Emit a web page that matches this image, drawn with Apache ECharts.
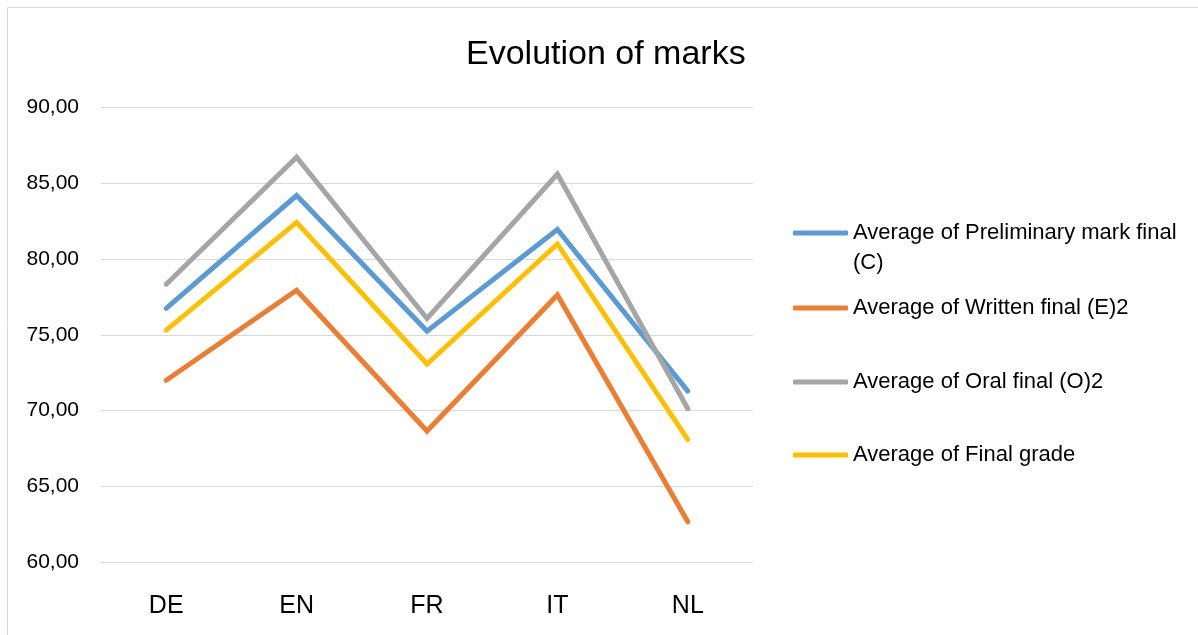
<!DOCTYPE html>
<html>
<head>
<meta charset="utf-8">
<title>Evolution of marks</title>
<script src="https://cdn.jsdelivr.net/npm/echarts@6/dist/echarts.min.js"></script>
<style>
  html, body { margin: 0; padding: 0; background: #fff; }
  #chart { width: 1198px; height: 635px; }
</style>
</head>
<body>
<div id="chart"></div>
<script>
// categories (language sections)
const categories = ["DE", "EN", "FR", "IT", "NL"];

// series values
const preliminaryMark = [76.74, 84.17, 75.24, 81.93, 71.29];
const writtenFinal = [72.0, 77.93, 68.66, 77.62, 62.68];
const oralFinal = [78.33, 86.7, 76.07, 85.59, 70.13];
const finalGrade = [75.3, 82.4, 73.07, 80.98, 68.1];

const seriesNames = [
  "Average of Preliminary mark final (C)",
  "Average of Written final (E)2",
  "Average of Oral final (O)2",
  "Average of Final grade",
];
const seriesData = [preliminaryMark, writtenFinal, oralFinal, finalGrade];
const colors = ["#5B9BD5", "#ED7D31", "#A5A5A5", "#FFC000"];

const FONT = "Liberation Sans";
const chart = echarts.init(document.getElementById("chart"));

// one legend per series so each row sits where it does in the picture
// (first label wraps; a blank leading line keeps its first line level with the icon)
const legendTops = [188, 293, 367, 440];
const legends = seriesNames.map((name, i) => ({
  data: [name],
  orient: "vertical",
  left: 793,
  top: legendTops[i],
  padding: 0,
  itemWidth: 55,
  itemHeight: 5,
  itemGap: 0,
  icon: "roundRect",
  formatter: (n) => (i === 0 ? "\nAverage of Preliminary mark final\n(C)" : n),
  textStyle: {
    fontFamily: FONT,
    fontSize: 22,
    color: "#000",
    lineHeight: 30,
  },
}));

chart.setOption({
  animation: false,
  color: colors,
  graphic: [
    {
      type: "rect",
      shape: { x: 7.5, y: 7.5, width: 1200, height: 640 },
      style: { fill: "none", stroke: "#D9D9D9", lineWidth: 1 },
      silent: true,
    },
  ],
  title: {
    text: "Evolution of marks",
    left: 461,
    top: 33,
    textStyle: {
      fontFamily: FONT,
      fontSize: 34,
      fontWeight: "normal",
      color: "#000",
    },
  },
  legend: legends,
  grid: {
    left: 101,
    right: 445,
    top: 107,
    bottom: 72.5,
    containLabel: false,
  },
  xAxis: {
    type: "category",
    data: categories,
    boundaryGap: true,
    axisLine: { show: true, lineStyle: { color: "#D9D9D9", width: 1 } },
    axisTick: { show: false },
    axisLabel: {
      fontFamily: FONT,
      fontSize: 25,
      color: "#000",
      margin: 31,
    },
  },
  yAxis: {
    type: "value",
    min: 60,
    max: 90,
    interval: 5,
    axisLine: { show: false },
    axisTick: { show: false },
    splitLine: { lineStyle: { color: "#D9D9D9", width: 1 } },
    axisLabel: {
      fontFamily: FONT,
      fontSize: 21,
      color: "#000",
      margin: 22,
      formatter: (v) => v.toFixed(2).replace(".", ","),
    },
  },
  series: seriesNames.map((name, i) => ({
    name: name,
    type: "line",
    data: seriesData[i],
    showSymbol: false,
    symbol: "none",
    lineStyle: { width: 5, color: colors[i], cap: "round", join: "miter" },
    itemStyle: { color: colors[i] },
  })),
});
</script>
</body>
</html>
